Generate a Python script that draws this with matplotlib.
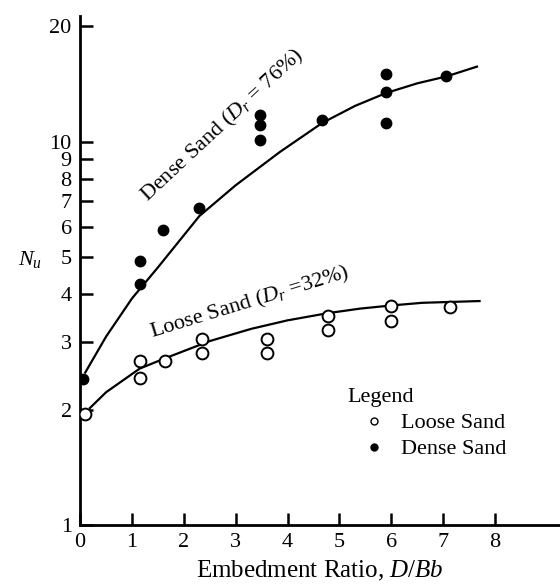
import matplotlib
matplotlib.use('Agg')
import matplotlib.pyplot as plt
from matplotlib.lines import Line2D

plt.rcParams['font.family'] = 'Liberation Serif'
plt.rcParams['mathtext.fontset'] = 'custom'
plt.rcParams['mathtext.rm'] = 'Liberation Serif'
plt.rcParams['mathtext.it'] = 'Liberation Serif:italic'

# measured points, loose sand (Dr = 32%)
loose_x = [0.1, 1.15, 1.15, 1.63, 2.35, 2.35, 3.6, 3.6, 4.77, 4.77, 6.0, 6.0, 7.13]
loose_y = [1.95, 2.68, 2.42, 2.68, 3.06, 2.81, 3.06, 2.81, 3.51, 3.23, 3.73, 3.41, 3.7]

# measured points, dense sand (Dr = 76%)
dense_x = [0.05, 1.15, 1.15, 1.6, 2.3, 3.46, 3.46, 3.46, 4.67, 5.9, 5.9, 5.9, 7.06]
dense_y = [2.41, 4.88, 4.25, 5.87, 6.7, 11.75, 11.07, 10.1, 11.4, 15.0, 13.5, 11.2, 14.8]

# fitted curves as drawn
loose_curve_x = [0.19, 0.5, 1.15, 1.63, 2.5, 3.3, 4.0, 4.77, 5.4, 6.0, 6.6, 7.7]
loose_curve_y = [2.02, 2.22, 2.56, 2.72, 3.02, 3.25, 3.42, 3.57, 3.67, 3.74, 3.8, 3.84]
dense_curve_x = [0.1, 0.5, 1.0, 1.5, 2.3, 3.0, 3.85, 4.67, 5.3, 5.9, 6.5, 7.06, 7.65]
dense_curve_y = [2.5, 3.1, 3.9, 4.7, 6.4, 7.7, 9.4, 11.2, 12.4, 13.4, 14.2, 14.8, 15.7]

yticks = [1, 2, 3, 4, 5, 6, 7, 8, 9, 10, 20]
xticks = [0, 1, 2, 3, 4, 5, 6, 7, 8]

fig = plt.figure(figsize=(5.6, 5.86), dpi=100)
ax = fig.add_axes([0.143, 0.104, 0.857, 0.869])

ax.plot(dense_curve_x, dense_curve_y, color='black', lw=1.6)
ax.plot(loose_curve_x, loose_curve_y, color='black', lw=1.6)
ax.plot(dense_x, dense_y, 'o', color='black', ms=7.5, zorder=3)
ax.plot(loose_x, loose_y, 'o', mfc='white', mec='black', mew=1.4, ms=8.5, zorder=3)

ax.set_yscale('log')
ax.set_ylim(1, 21.3)
ax.set_xlim(0, 9.25)
ax.set_yticks(yticks)
ax.set_yticklabels([str(t) for t in yticks])
ax.yaxis.set_minor_locator(matplotlib.ticker.NullLocator())
ax.set_xticks(xticks)

for s in ['top', 'right']:
    ax.spines[s].set_visible(False)
for s in ['left', 'bottom']:
    ax.spines[s].set_linewidth(2)
ax.tick_params(direction='in', length=9, width=1.8, labelsize=16, pad=6)

ax.set_xlabel('Embedment Ratio, $D/Bb$', fontsize=18, labelpad=5)
ax.set_ylabel('$N_u$', fontsize=16, rotation=0, labelpad=14)

ax.text(2.75, 11.0, 'Dense Sand ($D_r$ = 76%)', fontsize=16, rotation=43,
        ha='center', va='center', rotation_mode='anchor')
ax.text(3.27, 3.8, 'Loose Sand ($D_r$ =32%)', fontsize=16, rotation=17,
        ha='center', va='center', rotation_mode='anchor')

handles = [Line2D([], [], ls='none', marker='o', mfc='white', mec='black', ms=5),
           Line2D([], [], ls='none', marker='o', color='black', ms=5)]
leg = ax.legend(handles, ['Loose Sand', 'Dense Sand'], title='Legend', frameon=False,
                fontsize=16, title_fontsize=16, handlelength=2.4, handletextpad=0.0,
                alignment='left', labelspacing=0.25,
                loc='upper left', bbox_to_anchor=(0.516, 0.308))

fig.savefig('out.png', dpi=100)
